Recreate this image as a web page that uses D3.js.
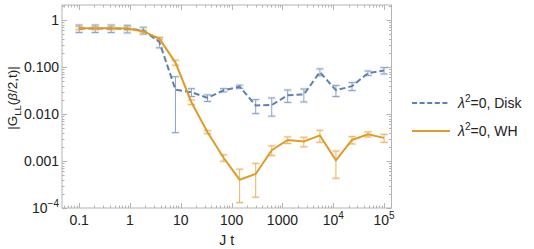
<!DOCTYPE html>
<html>
<head>
<meta charset="utf-8">
<script src="https://cdn.jsdelivr.net/npm/d3@7"></script>
<style>
  body { margin: 0; background: #fff; }
  svg { display: block; font-family: "Liberation Sans", Arial, sans-serif; }
  text { fill: #222; }
</style>
</head>
<body>
<svg width="534" height="249"></svg>
<script>
// time points J t (log spaced)
var jt = [0.1, 0.207, 0.428, 0.886, 1.83, 3.79, 7.85, 16.2, 33.6, 69.5,
          144, 298, 616, 1270, 2640, 5460, 11300, 23400, 48300, 100000];

// lambda^2 = 0, Disk
var diskVal = [0.66, 0.66, 0.66, 0.65, 0.60, 0.34, 0.033, 0.029, 0.022, 0.032,
               0.038, 0.0152, 0.0155, 0.025, 0.026, 0.078, 0.032, 0.039, 0.074, 0.084];
var diskErr = [0.12, 0.12, 0.12, 0.12, 0.1, 0.085, 0.029, 0.0055, 0.0035, 0.0026,
               0.003, 0.005, 0.0065, 0.0074, 0.008, 0.013, 0.0085, 0.0075, 0.008, 0.013];

// lambda^2 = 0, WH
var whVal = [0.67, 0.67, 0.67, 0.66, 0.57, 0.40, 0.124, 0.0178, 0.0041, 0.00117,
             0.0004, 0.00053, 0.0017, 0.0028, 0.0026, 0.0035, 0.00103, 0.0028, 0.0037, 0.0031];
var whErr = [0.05, 0.05, 0.05, 0.05, 0.04, 0.02, 0.015, 0.002, 0.0003, 0.00018,
             0.00027, 0.00036, 0.0004, 0.00045, 0.0006, 0.001, 0.0006, 0.0005, 0.00045, 0.0006];

var xTicks = [0.1, 1, 10, 100, 1000, 1e4, 1e5];
var xTickLabels = ["0.1", "1", "10", "100", "1000", ["10", "4"], ["10", "5"]];
var yTicks = [1, 0.1, 0.01, 0.001, 1e-4];
var yTickLabels = ["1", "0.100", "0.010", "0.001", ["10", "\u22124"]];

var seriesNames = ["\u03bb", "=0, Disk", "=0, WH"];

function init() {
    var svg = d3.select("svg");
    var plot = {left: 62, right: 391.5, top: 5, bottom: 208};
    var frameColor = "#b4b4b4";
    var blue = "#5e81b5", orange = "#e19c24";
    var blueErr = "#8aa3cb", orangeErr = "#e9b662";

    var x = d3.scaleLog().domain([0.046, 1.4e5]).range([plot.left, plot.right]);
    var y = d3.scaleLog().domain([1e-4, 2.08]).range([plot.bottom, plot.top]);

    // minor tick values
    function minors(lo, hi) {
        var out = [];
        for (var e = lo; e <= hi; e++) {
            for (var m = 1; m <= 9; m++) out.push(m * Math.pow(10, e));
        }
        return out;
    }
    var xMinor = minors(-2, 5).filter(function(v) { return v >= x.domain()[0] && v <= x.domain()[1]; });
    var yMinor = minors(-4, 0).filter(function(v) { return v >= y.domain()[0] && v <= y.domain()[1]; });
    function isMajor(v) { return Math.abs(Math.log10(v) - Math.round(Math.log10(v))) < 1e-9; }

    var g = svg.append("g");

    // frame
    g.append("rect")
        .attr("x", plot.left).attr("y", plot.top)
        .attr("width", plot.right - plot.left).attr("height", plot.bottom - plot.top)
        .attr("fill", "none").attr("stroke", frameColor).attr("stroke-width", 1);

    // ticks on all four sides, pointing in
    xMinor.forEach(function(v) {
        var len = isMajor(v) ? 5 : 2.5, px = Math.round(x(v)) + 0.5;
        g.append("line").attr("x1", px).attr("x2", px)
            .attr("y1", plot.bottom).attr("y2", plot.bottom - len)
            .attr("stroke", frameColor);
        g.append("line").attr("x1", px).attr("x2", px)
            .attr("y1", plot.top).attr("y2", plot.top + len)
            .attr("stroke", frameColor);
    });
    yMinor.forEach(function(v) {
        var len = isMajor(v) ? 5 : 2.5, py = Math.round(y(v)) + 0.5;
        g.append("line").attr("y1", py).attr("y2", py)
            .attr("x1", plot.left).attr("x2", plot.left + len)
            .attr("stroke", frameColor);
        g.append("line").attr("y1", py).attr("y2", py)
            .attr("x1", plot.right).attr("x2", plot.right - len)
            .attr("stroke", frameColor);
    });

    // tick labels
    xTicks.forEach(function(v, i) {
        var lab = xTickLabels[i];
        var t = g.append("text")
            .attr("x", x(v)).attr("y", 225)
            .attr("text-anchor", "middle")
            .attr("font-size", 14);
        if (typeof lab === "string") {
            t.text(lab);
        } else {
            t.append("tspan").text(lab[0]);
            t.append("tspan").attr("dy", -6).attr("font-size", 10).text(lab[1]);
        }
    });
    yTicks.forEach(function(v, i) {
        var lab = yTickLabels[i];
        var t = g.append("text")
            .attr("x", 59).attr("y", y(v) + 5)
            .attr("text-anchor", "end")
            .attr("font-size", 14);
        if (typeof lab === "string") {
            t.text(lab);
        } else {
            t.append("tspan").text(lab[0]);
            t.append("tspan").attr("dy", -6).attr("font-size", 10).text(lab[1]);
        }
    });

    // axis titles
    g.append("text")
        .attr("x", (plot.left + plot.right) / 2).attr("y", 245)
        .attr("text-anchor", "middle").attr("font-size", 14)
        .text("J t");

    var yl = g.append("text")
        .attr("text-anchor", "middle").attr("font-size", 13.5)
        .attr("transform", "translate(17," + 98 + ")rotate(-90)");
    yl.append("tspan").text("|G");
    yl.append("tspan").attr("dy", 4).attr("font-size", 9.5).text("LL");
    yl.append("tspan").attr("dy", -4).text("(");
    yl.append("tspan").attr("font-style", "italic").text("\u03b2");
    yl.append("tspan").text("/2,t)|");

    // series
    var disk = jt.map(function(t, i) { return {t: t, v: diskVal[i], e: diskErr[i]}; });
    var wh = jt.map(function(t, i) { return {t: t, v: whVal[i], e: whErr[i]}; });

    function drawErrors(data, color) {
        var eg = g.append("g");
        data.forEach(function(d) {
            var px = x(d.t),
                lo = Math.max(d.v - d.e, 1e-6),
                y1 = y(d.v + d.e), y2 = y(lo);
            eg.append("line").attr("x1", px).attr("x2", px)
                .attr("y1", y1).attr("y2", y2)
                .attr("stroke", color).attr("stroke-width", 1);
            [y1, y2].forEach(function(cy) {
                eg.append("line").attr("x1", px - 4).attr("x2", px + 4)
                    .attr("y1", cy).attr("y2", cy)
                    .attr("stroke", color).attr("stroke-opacity", 0.2).attr("stroke-width", 3);
                eg.append("line").attr("x1", px - 3.5).attr("x2", px + 3.5)
                    .attr("y1", cy).attr("y2", cy)
                    .attr("stroke", color).attr("stroke-width", 1);
            });
        });
    }

    var line = d3.line()
        .x(function(d) { return x(d.t); })
        .y(function(d) { return y(d.v); });

    drawErrors(disk, blueErr);
    drawErrors(wh, orangeErr);

    g.append("path").datum(disk)
        .attr("d", line).attr("fill", "none")
        .attr("stroke", blue).attr("stroke-width", 2)
        .attr("stroke-dasharray", "6,3");

    g.append("path").datum(wh)
        .attr("d", line).attr("fill", "none")
        .attr("stroke", orange).attr("stroke-width", 2);

    // legend
    var legend = [
        {name: seriesNames[1], color: blue, dash: "5,2.6", y: 103},
        {name: seriesNames[2], color: orange, dash: null, y: 131}
    ];
    legend.forEach(function(l) {
        g.append("line")
            .attr("x1", 412).attr("x2", 450)
            .attr("y1", l.y).attr("y2", l.y)
            .attr("stroke", l.color).attr("stroke-width", 2)
            .attr("stroke-dasharray", l.dash);
        var t = g.append("text")
            .attr("x", 458).attr("y", l.y + 5)
            .attr("font-size", 14);
        t.append("tspan").attr("font-style", "italic").text(seriesNames[0]);
        t.append("tspan").attr("dy", -6).attr("font-size", 10).text("2");
        t.append("tspan").attr("dy", 6).text(l.name);
    });
}

init();
</script>
</body>
</html>
